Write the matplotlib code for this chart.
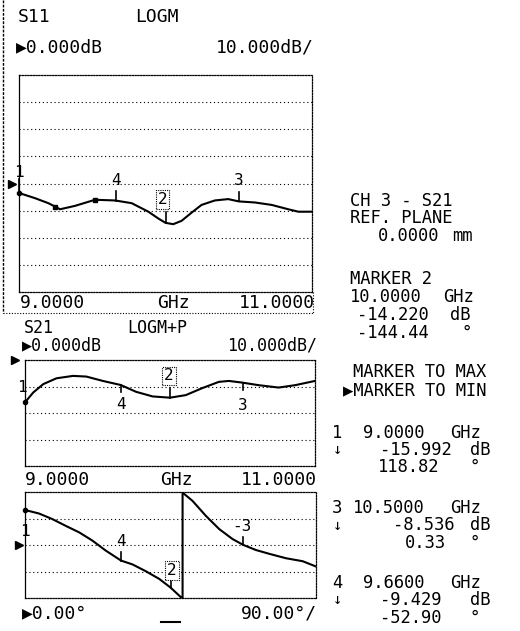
import numpy as np
import matplotlib
matplotlib.use("Agg")
import matplotlib.pyplot as plt
from matplotlib.lines import Line2D

# ---------------- data ----------------
s11_freq = [9.0, 9.109, 9.2, 9.246, 9.28, 9.382, 9.519, 9.655, 9.769, 9.883,
            9.951, 10.0, 10.053, 10.11, 10.178, 10.246, 10.337, 10.428, 10.5,
            10.611, 10.725, 10.838, 10.907, 11.0]
s11_db = [-3.5, -5.4, -7.25, -8.5, -9.5, -8.25, -6.0, -6.25, -7.25, -10.4,
          -12.9, -14.5, -15.0, -13.75, -10.75, -7.9, -6.25, -5.75, -6.6,
          -7.0, -7.9, -9.5, -10.4, -10.4]
s11_dot_freq = [9.246, 9.519]

s21_freq = [9.0, 9.057, 9.126, 9.217, 9.331, 9.423, 9.537, 9.66, 9.766, 9.88,
            10.0, 10.109, 10.223, 10.337, 10.406, 10.5, 10.611, 10.749, 10.863, 11.0]
s21_db = [-15.99, -12.25, -9.1, -6.9, -6.0, -6.25, -7.9, -9.43, -12.0, -13.75,
          -14.22, -13.25, -10.6, -8.25, -7.9, -8.54, -9.5, -10.4, -9.5, -7.9]

ph_freq = [9.0, 9.096, 9.188, 9.28, 9.372, 9.463, 9.555, 9.66, 9.739, 9.83,
           9.922, 10.0, 10.071, 10.083, 10.083, 10.151, 10.243, 10.335, 10.427,
           10.5, 10.587, 10.679, 10.794, 10.908, 11.0]
ph_deg = [118.82, 107, 88, 65, 43, 15, -19, -52.9, -66, -89,
          -115, -144.44, -177, -180, 178, 150, 99, 54, 20,
          0.33, -17, -30, -45, -55, -73]

marker_ids = ["1", "2", "3", "4"]
marker_freq = [9.0, 10.0, 10.5, 9.66]

# ---------------- figure ----------------
W, H = 520, 631
fig = plt.figure(figsize=(W / 100, H / 100), dpi=100)
fig.patch.set_facecolor("white")
MONO = ["DejaVu Sans Mono", "DejaVu Sans"]


def px_axes(left, top, right, bottom):
    return fig.add_axes([left / W, 1 - bottom / H, (right - left) / W, (bottom - top) / H])


def ftext(x, y, s, size=12.5, ha="left"):
    fig.text(x / W, 1 - y / H, s, ha=ha, va="center", fontsize=size,
             family=MONO, color="black")


def style_axes(ax, ylim, grid):
    ax.set_xlim(9, 11)
    ax.set_ylim(*ylim)
    ax.set_xticks([])
    ax.set_yticks([])
    for g in grid:
        ax.axhline(g, color="black", lw=0.8, ls=(0, (1, 2.5)), zorder=1)
    for name, sp in ax.spines.items():
        sp.set_linewidth(0.9)
        sp.set_color("black")
        sp.set_linestyle((0, (1, 1.2)) if name != "left" else (0, (3, 1)))
    ax.set_facecolor("none")


def ref_arrow(ax, xfrac, yval):
    ax.plot([xfrac], [yval], marker=">", ms=6, color="black",
            transform=ax.get_yaxis_transform(), clip_on=False)


def marker_tick(ax, f, v, dy):
    ax.plot([f, f], [v, v + dy], color="black", lw=1.2, clip_on=False)


def mlabel(ax, f, y, s, **kw):
    ax.text(f, y, s, ha="center", va="center", fontsize=11.5, family=MONO, **kw)


def boxed(ax, f, y, s):
    ax.text(f, y, s, ha="center", va="center", fontsize=11.5, family=MONO,
            bbox=dict(boxstyle="square,pad=0.12", fc="white", ec="black",
                      lw=0.8, ls=(0, (1, 1))))


mf = dict(zip(marker_ids, marker_freq))

# ---- S11 ----
ax1 = px_axes(19, 75, 312, 292)
style_axes(ax1, (-40, 40), [-30, -20, -10, 0, 10, 20, 30])
ax1.plot(s11_freq, s11_db, color="black", lw=1.5, zorder=3)
ax1.plot(s11_dot_freq, np.interp(s11_dot_freq, s11_freq, s11_db), "s",
         color="black", ms=3, zorder=4)
ref_arrow(ax1, -0.024, 0)
mv = dict(zip(marker_ids, np.interp(marker_freq, s11_freq, s11_db)))
ax1.plot([9.0], [mv["1"]], "o", color="black", ms=3, clip_on=False)
marker_tick(ax1, mf["1"], mv["1"], 5)
mlabel(ax1, 9.0, mv["1"] + 7.5, "1")
marker_tick(ax1, mf["4"], mv["4"], 3.5)
mlabel(ax1, mf["4"], mv["4"] + 7.4, "4")
marker_tick(ax1, mf["2"], mv["2"], 4)
boxed(ax1, mf["2"] - 0.02, mv["2"] + 8.6, "2")
marker_tick(ax1, mf["3"], mv["3"], 3.5)
mlabel(ax1, mf["3"], mv["3"] + 7.7, "3")

# ---- S21 magnitude ----
ax2 = px_axes(25, 360, 315, 466)
style_axes(ax2, (-40, 0), [-30, -20, -10])
ax2.plot(s21_freq, s21_db, color="black", lw=1.5, zorder=3)
ref_arrow(ax2, -0.034, 0)
mv2 = dict(zip(marker_ids, np.interp(marker_freq, s21_freq, s21_db)))
ax2.plot([9.0], [mv2["1"]], "o", color="black", ms=3, clip_on=False)
mlabel(ax2, -0.01, -10.2, "1", transform=ax2.get_yaxis_transform())
marker_tick(ax2, mf["4"], mv2["4"], -2.8)
mlabel(ax2, mf["4"], mv2["4"] - 7.3, "4")
marker_tick(ax2, mf["2"], mv2["2"], 3.8)
boxed(ax2, mf["2"] - 0.007, mv2["2"] + 8.2, "2")
marker_tick(ax2, mf["3"], mv2["3"], -2.8)
mlabel(ax2, mf["3"], mv2["3"] - 8.5, "3")

# ---- S21 phase ----
ax3 = px_axes(25, 492, 316, 598)
style_axes(ax3, (-180, 180), [-90, 0, 90])
ax3.plot(ph_freq, ph_deg, color="black", lw=1.5, zorder=3)
ref_arrow(ax3, -0.02, 0)
mv3 = dict(zip(marker_ids, np.interp(marker_freq, ph_freq[:12], ph_deg[:12]).tolist()))
mv3["3"] = float(np.interp(mf["3"], ph_freq[14:], ph_deg[14:]))
ax3.plot([9.0], [mv3["1"]], "o", color="black", ms=3, clip_on=False)
mlabel(ax3, 9.0, 47, "1")
marker_tick(ax3, mf["4"], mv3["4"], 30)
mlabel(ax3, mf["4"], mv3["4"] + 66, "4")
marker_tick(ax3, mf["2"], mv3["2"], 28)
boxed(ax3, mf["2"] + 0.01, mv3["2"] + 59, "2")
marker_tick(ax3, mf["3"], mv3["3"], 28)
mlabel(ax3, mf["3"] - 0.01, mv3["3"] + 61, "-3")

# ---- labels around the plots ----
LS = 13
ftext(18, 17, "S11", LS)
ftext(135, 17, "LOGM", LS)
ftext(16, 47, "▶0.000dB", LS)
ftext(314, 47, "10.000dB/", LS, ha="right")
ftext(20, 303, "9.0000", LS)
ftext(157, 303, "GHz", LS)
ftext(315, 303, "11.0000", LS, ha="right")

ftext(24, 328, "S21", 12)
ftext(127, 328, "LOGM+P", 12)
ftext(22, 345, "▶0.000dB", 12)
ftext(317, 345, "10.000dB/", 12, ha="right")
ftext(25, 480, "9.0000", LS)
ftext(160, 480, "GHz", LS)
ftext(317, 480, "11.0000", LS, ha="right")
ftext(22, 613, "▶0.00°", LS)
ftext(317, 613, "90.00°/", LS, ha="right")
fig.add_artist(Line2D([161 / W, 180 / W], [1 - 622 / H, 1 - 622 / H], color="black", lw=1.5))

# scan border lines
fig.add_artist(Line2D([3 / W, 3 / W], [1 - 0 / H, 1 - 313 / H], color="black", lw=1.0, ls=(0, (2, 1))))
fig.add_artist(Line2D([3 / W, 313 / W], [1 - 313 / H, 1 - 313 / H], color="black", lw=0.8, ls=(0, (1, 1.5))))
fig.add_artist(Line2D([313 / W, 313 / W], [1 - 292 / H, 1 - 313 / H], color="black", lw=0.8, ls=(0, (1, 1.5))))

# ---- right-hand panel ----
RS = 12.3


def num_unit(num, num_x, unit, unit_x, y):
    ftext(num_x, y, num, RS)
    ftext(unit_x, y, unit, RS)


ftext(350, 201, "CH 3 - S21", RS)
ftext(350, 218, "REF. PLANE", RS)
num_unit("0.0000", 378, "mm", 452, 236)
ftext(350, 279, "MARKER 2", RS)
num_unit("10.0000", 350, "GHz", 443, 297)
num_unit("-14.220", 357, "dB", 450, 315)
num_unit("-144.44", 357, "°", 462, 333)
ftext(353, 372, "MARKER TO MAX", RS)
ftext(343, 390, "▶MARKER TO MIN", RS)

ftext(332, 433, "1", RS)
num_unit("9.0000", 363, "GHz", 450, 433)
ftext(333, 450, "↓", 11)
num_unit("-15.992", 380, "dB", 470, 450)
num_unit("118.82", 378, "°", 470, 467)

ftext(332, 508, "3", RS)
num_unit("10.5000", 353, "GHz", 450, 508)
ftext(333, 525, "↓", 11)
num_unit("-8.536", 393, "dB", 470, 525)
num_unit("0.33", 405, "°", 470, 543)

ftext(332, 583, "4", RS)
num_unit("9.6600", 363, "GHz", 450, 583)
ftext(333, 600, "↓", 11)
num_unit("-9.429", 380, "dB", 470, 600)
num_unit("-52.90", 380, "°", 470, 618)

fig.savefig("out.png", dpi=100, facecolor="white")
